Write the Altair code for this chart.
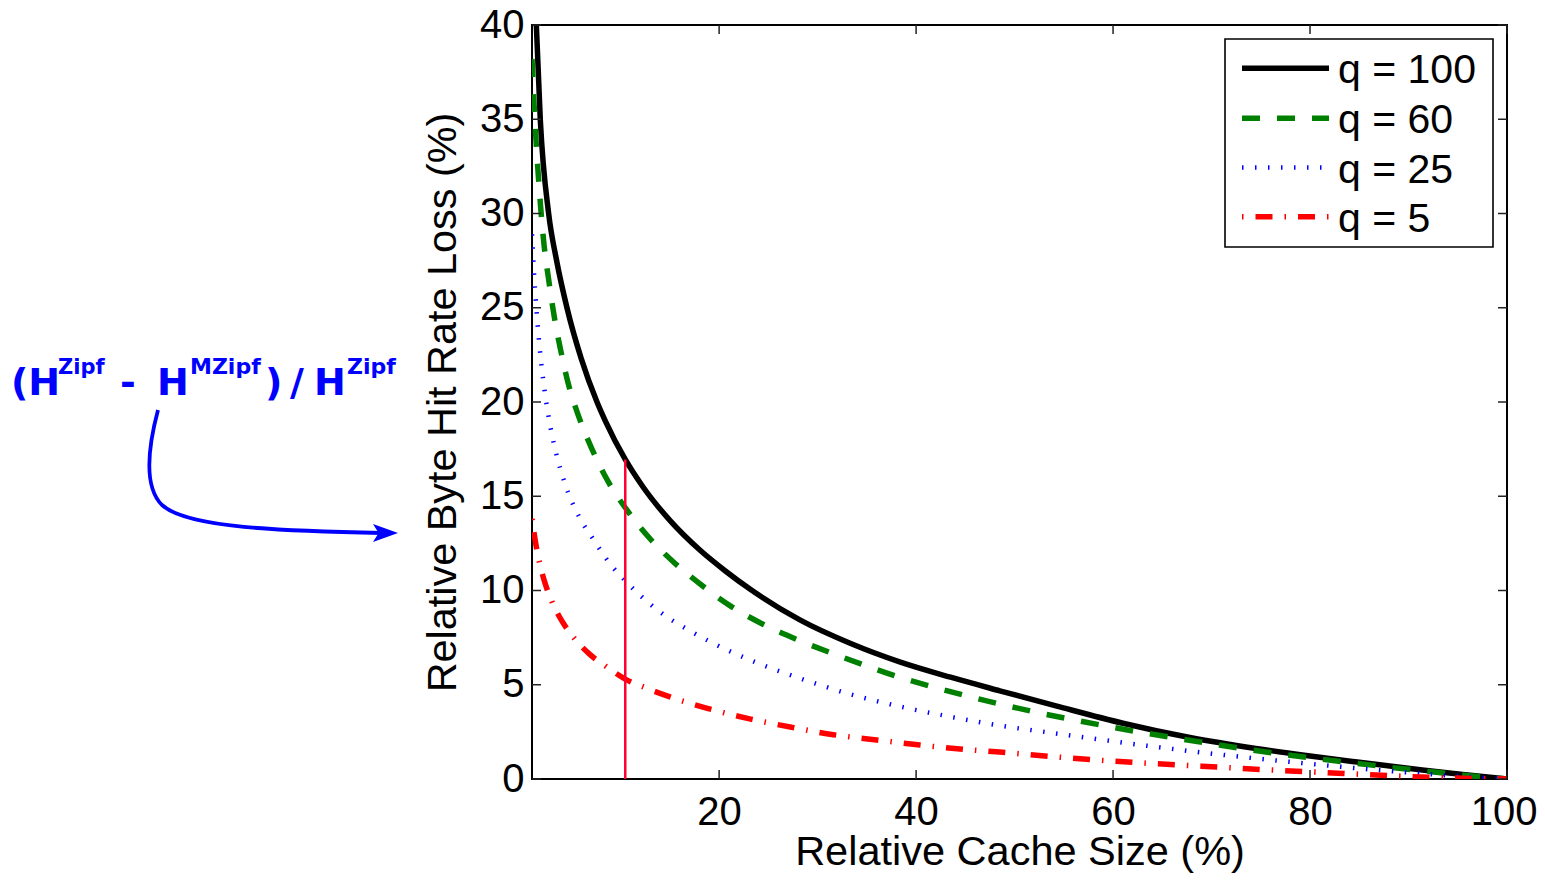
import altair as alt
import pandas as pd

# ---------------- data ----------------
x_q100 = [1.4, 1.84, 2.69, 3.5, 4.55, 6.0, 7.6, 8.44, 10.47, 12.33, 15.0, 18.1, 20.6, 23.2,
          28.2, 33.3, 38.4, 43.5, 48.5, 54.2, 61.0, 67.8, 74.5, 80.0, 84.8, 91.4, 95.5, 100]
y_q100 = [40.5, 35.0, 30.0, 27.5, 25.0, 22.3, 20.0, 19.0, 16.95, 15.45, 13.72, 12.12, 11.05, 10.05,
          8.44, 7.2, 6.2, 5.4, 4.68, 3.88, 2.96, 2.2, 1.62, 1.22, 0.9, 0.48, 0.243, 0.0]

x_q60 = [1.0, 1.23, 1.44, 1.67, 1.87, 2.25, 2.69, 3.3, 3.87, 4.72, 5.73, 7.09, 8.71, 10.74, 12.9,
         15.5, 18.3, 21.1, 24.5, 27.9, 31.3, 34.7, 38.0, 41.6, 45.2, 48.5, 52.1, 55.7, 59.4,
         62.9, 66.5, 70.1, 73.7, 77.3, 81.0, 84.6, 88.1, 91.8, 95.6, 100]
y_q60 = [38.2, 35.6, 33.6, 31.8, 30.4, 28.2, 26.5, 24.4, 22.85, 20.9, 19.25, 17.5, 15.8, 14.2, 12.8,
         11.45, 10.25, 9.2, 8.2, 7.4, 6.7, 6.05, 5.45, 4.9, 4.4, 3.98, 3.55, 3.17, 2.8,
         2.47, 2.16, 1.86, 1.57, 1.31, 1.06, 0.84, 0.62, 0.41, 0.2, 0.0]

x_q25 = [1.0, 1.16, 1.33, 1.51, 1.74, 1.94, 2.28, 2.69, 3.37, 4.05, 4.7, 5.9, 7.25, 8.8, 10.6,
         12.5, 14.7, 16.9, 19.4, 23.2, 28.2, 33.3, 38.4, 43.5, 48.2, 53.6, 59.0, 64.4, 69.8,
         75.3, 79.5, 83.5, 87.7, 91.8, 95.9, 100]
y_q25 = [28.9, 27.25, 25.8, 24.5, 23.1, 22.05, 20.6, 19.2, 17.45, 16.15, 15.15, 13.8, 12.7, 11.5,
         10.45, 9.5, 8.6, 7.9, 7.2, 6.3, 5.34, 4.5, 3.84, 3.3, 2.86, 2.46, 2.07, 1.7, 1.36,
         1.05, 0.83, 0.63, 0.44, 0.27, 0.12, 0.0]

x_q5 = [1.0, 1.41, 1.84, 2.35, 3.03, 4.05, 5.4, 6.9, 8.6, 10.47, 12.5, 14.5, 16.7, 18.8, 23.2,
        27.4, 31.6, 36.0, 40.4, 44.8, 48.5, 53.6, 58.0, 62.4, 66.8, 71.2, 75.6, 79.7, 84.4,
        88.8, 93.2, 97.6, 100]
y_q5 = [13.8, 12.4, 11.3, 10.35, 9.4, 8.37, 7.4, 6.6, 5.94, 5.3, 4.85, 4.45, 4.07, 3.75, 3.18,
        2.74, 2.35, 2.07, 1.8, 1.58, 1.43, 1.2, 1.02, 0.87, 0.74, 0.62, 0.49, 0.39, 0.27,
        0.16, 0.07, 0.02, 0.0]

series_labels = ["q = 100", "q = 60", "q = 25", "q = 5"]
marker_x = [10.47]
marker_top = [16.95]

x_ticks = [20, 40, 60, 80, 100]
y_ticks = [0, 5, 10, 15, 20, 25, 30, 35, 40]

x_title = "Relative Cache Size (%)"
y_title = "Relative Byte Hit Rate Loss (%)"

# ---------------- styling ----------------
W, H = 975, 754
FONT = "Liberation Sans"
AFONT = "DejaVu Sans"
BLUE = "#0000ff"

styles = [
    dict(color="#000000", strokeWidth=5.5),
    dict(color="#008000", strokeWidth=5.5, strokeDash=[18, 17]),
    dict(color="#0000ff", strokeWidth=4.5, strokeDash=[1.5, 11.5]),
    dict(color="#ff0000", strokeWidth=5.5, strokeDash=[1.5, 12, 17, 12]),
]
xs = [x_q100, x_q60, x_q25, x_q5]
ys = [y_q100, y_q60, y_q25, y_q5]

xscale = alt.Scale(domain=[1, 100], nice=False, zero=False)
yscale = alt.Scale(domain=[0, 40], nice=False, zero=False)

x_axis = alt.Axis(
    values=x_ticks, title=x_title, grid=False, domain=False, ticks=True, tickSize=0,
    labelFont=FONT, labelFontSize=40, labelColor="black", labelPadding=13,
    labelFlush=1, labelFlushOffset=30, labelOverlap=False,
    titleFont=FONT, titleFontSize=41.5, titleFontWeight="normal", titleColor="black",
    titleBaseline="alphabetic", titleAlign="center", titleX=W / 2, titleY=85)
y_axis = alt.Axis(
    values=y_ticks, title=y_title, grid=False, domain=False, ticks=True, tickSize=0,
    labelFont=FONT, labelFontSize=40, labelColor="black", labelPadding=8,
    labelFlush=False, labelOverlap=False,
    titleFont=FONT, titleFontSize=41.4, titleFontWeight="normal", titleColor="black",
    titleBaseline="alphabetic", titleAlign="center", titleAngle=270,
    titleX=-77, titleY=H / 2)


def X(field):
    return alt.X(field, scale=xscale, axis=x_axis)


def Y(field):
    return alt.Y(field, scale=yscale, axis=y_axis)


layers = []
for label, sx, sy, st in zip(series_labels, xs, ys, styles):
    df = pd.DataFrame({"x": sx, "y": sy, "series": label})
    layers.append(
        alt.Chart(df).mark_line(clip=True, interpolate="monotone", strokeCap="butt", **st)
        .encode(x=X("x:Q"), y=Y("y:Q"))
    )

# red vertical marker
mdf = pd.DataFrame({"x": marker_x, "y0": [0] * len(marker_x), "y1": marker_top})
layers.append(
    alt.Chart(mdf).mark_rule(color="#ff0033", strokeWidth=2.5)
    .encode(x=X("x:Q"), y=Y("y0:Q"), y2="y1:Q")
)

# inward ticks (box style)
xt = pd.DataFrame({"v": x_ticks})
yt = pd.DataFrame({"v": y_ticks})
TK = 9
tick_style = dict(color="#222222", strokeWidth=1.5)
layers.append(alt.Chart(xt).mark_rule(**tick_style).encode(
    x=X("v:Q"), y=alt.value(H), y2=alt.value(H - TK)))
layers.append(alt.Chart(xt).mark_rule(**tick_style).encode(
    x=X("v:Q"), y=alt.value(0), y2=alt.value(TK)))
layers.append(alt.Chart(yt).mark_rule(**tick_style).encode(
    y=Y("v:Q"), x=alt.value(0), x2=alt.value(TK)))
layers.append(alt.Chart(yt).mark_rule(**tick_style).encode(
    y=Y("v:Q"), x=alt.value(W), x2=alt.value(W - TK)))

# legend (manual, boxed)
one = pd.DataFrame({"k": [0]})
layers.append(alt.Chart(one).mark_rect(fill="white", stroke="black", strokeWidth=1.6).encode(
    x=alt.value(693), x2=alt.value(961), y=alt.value(14), y2=alt.value(222)))
row_y = [43.3, 93.3, 142.5, 191.7]
for label, st, ry in zip(series_labels, styles, row_y):
    layers.append(alt.Chart(one).mark_rule(strokeCap="butt", **st).encode(
        x=alt.value(710), x2=alt.value(797), y=alt.value(ry)))
    layers.append(alt.Chart(pd.DataFrame({"t": [label]})).mark_text(
        font=FONT, fontSize=41, color="black", align="left", baseline="alphabetic").encode(
        x=alt.value(806), y=alt.value(ry + 15), text="t:N"))

# annotation: (H^Zipf - H^MZipf) / H^Zipf with curved arrow
pieces = [
    ("(H", -521, 370, 38),
    ("Zipf", -474, 349, 21),
    ("-", -412, 370, 38),
    ("H", -375, 370, 38),
    ("MZipf", -342, 349, 22),
    (")", -267, 370, 38),
    ("/", -242, 370, 38),
    ("H", -218, 370, 38),
    ("Zipf", -185, 349, 22),
]
for txt, px, py, fs in pieces:
    layers.append(alt.Chart(pd.DataFrame({"t": [txt]})).mark_text(
        font=AFONT, fontSize=fs, fontWeight="bold", color=BLUE, align="left",
        baseline="alphabetic").encode(x=alt.value(px), y=alt.value(py), text="t:N"))

# curved arrow drawn as one symbol path (size 4 -> unit scale, pixel offsets)
arrow_path = "M-374,385C-382,415 -390,460 -370,480C-345,503 -250,506 -150,508"
layers.append(alt.Chart(one).mark_point(
    shape=arrow_path, size=4, filled=False, color=BLUE, strokeWidth=3.8, opacity=1).encode(
    x=alt.value(0), y=alt.value(0)))
layers.append(alt.Chart(one).mark_point(
    shape="M1,0L-1,-0.72L-0.55,0L-1,0.72Z", size=625, filled=True, color=BLUE,
    opacity=1, strokeWidth=0).encode(x=alt.value(-146.5), y=alt.value(508)))

chart = alt.layer(*layers).properties(
    width=W, height=H,
    padding={"left": 524, "top": 17, "right": 30, "bottom": 95},
    autosize=alt.AutoSizeParams(type="none"),
).configure_view(stroke="black", strokeWidth=2)

chart.save("out.html", embed_options={"renderer": "svg", "actions": False})
